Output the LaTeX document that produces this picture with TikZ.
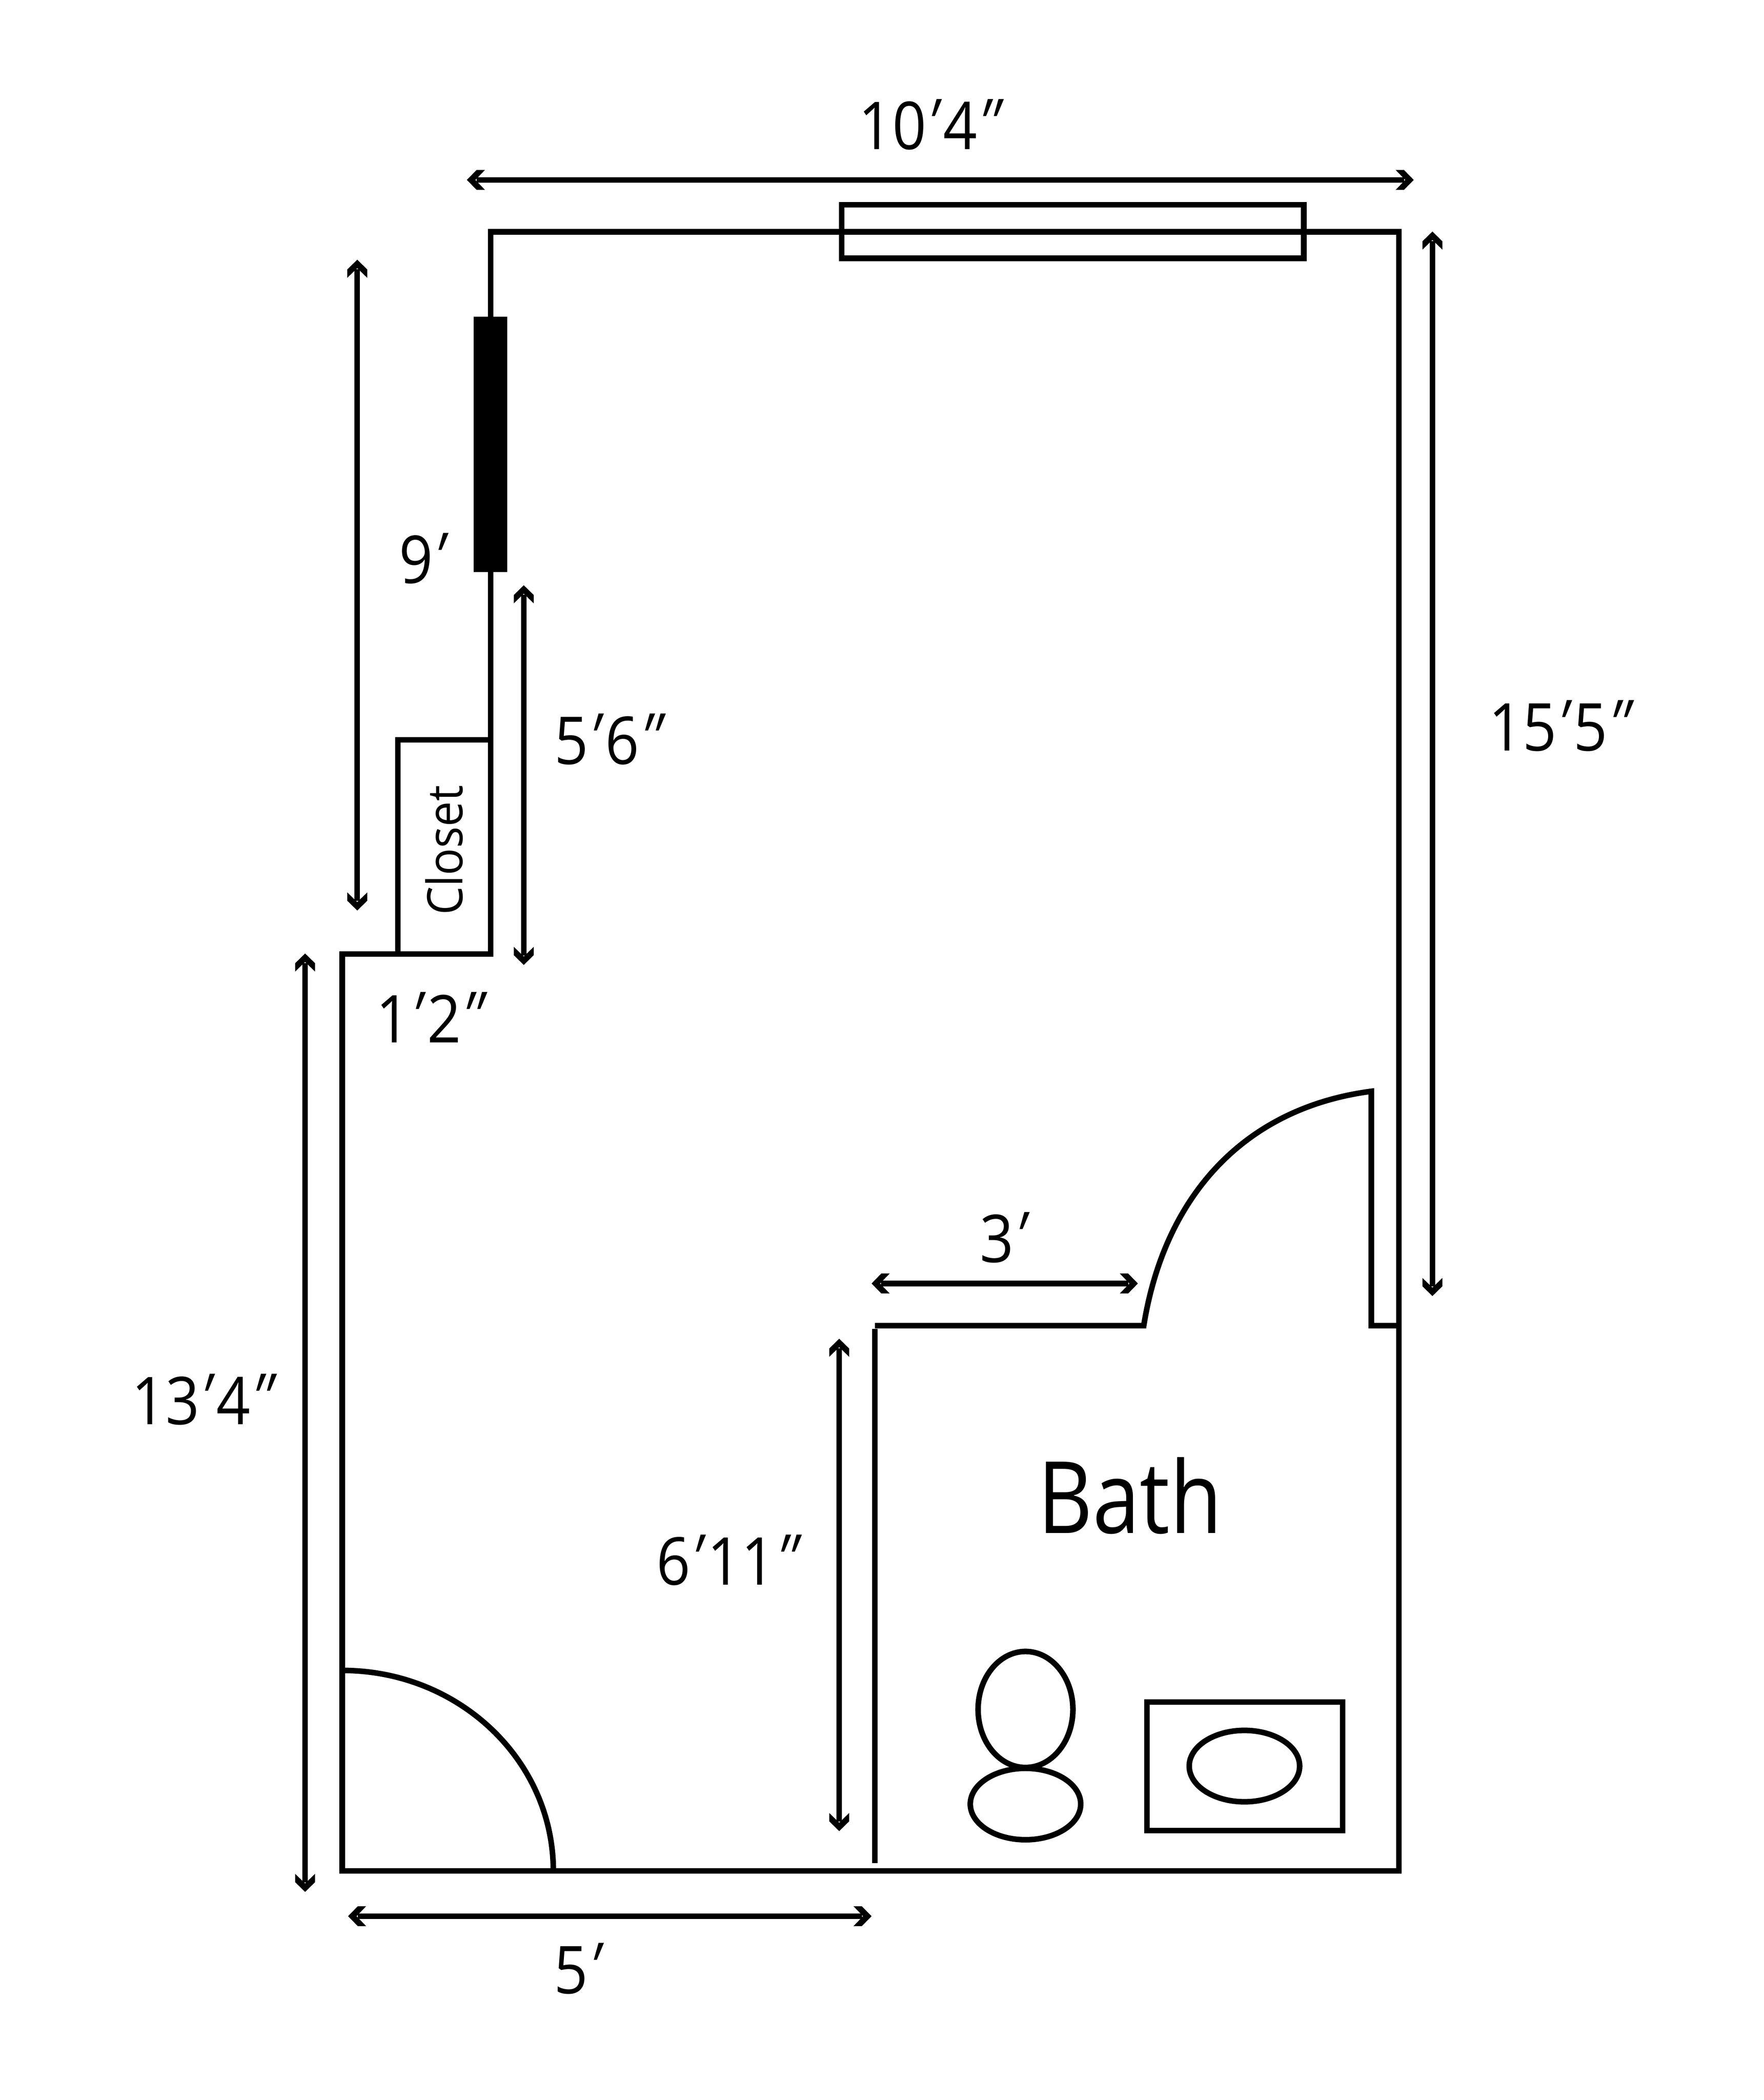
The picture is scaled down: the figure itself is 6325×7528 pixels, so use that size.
\documentclass[tikz,border=0pt]{standalone}
\usepackage{fontspec}
\setmainfont{Open Sans}[FakeStretch=0.9]
\newfontfamily\bathfont{Open Sans}[FakeStretch=0.85]
\newfontfamily\closetfont{Open Sans}[FakeStretch=0.92]
\newfontfamily\slantfont{Open Sans}[FakeStretch=0.9,FakeSlant=0.35]
\newcommand{\ftm}{\kern-5.0pt\raisebox{1.6pt}{\slantfont ′}\kern7.0pt}
\newcommand{\inm}{\kern-5.0pt\raisebox{1.6pt}{\slantfont ″}\kern7.0pt}
\usetikzlibrary{arrows.meta}
\pgfdeclarearrow{
  name=Chev,
  setup code={
    \pgfarrowssettipend{0pt}
    \pgfarrowssetlineend{-4.9pt}
    \pgfarrowssetvisualbackend{-9.25pt}
    \pgfarrowssetbackend{-9.25pt}
    \pgfarrowshullpoint{0pt}{0pt}
    \pgfarrowshullpoint{-9.25pt}{5.1pt}
    \pgfarrowshullpoint{-9.25pt}{-5.1pt}
  },
  drawing code={
    \pgfpathmoveto{\pgfpoint{0pt}{0pt}}
    \pgfpathlineto{\pgfpoint{-5pt}{5.1pt}}
    \pgfpathlineto{\pgfpoint{-9.25pt}{5.1pt}}
    \pgfpathlineto{\pgfpoint{-4.3pt}{0pt}}
    \pgfpathlineto{\pgfpoint{-9.25pt}{-5.1pt}}
    \pgfpathlineto{\pgfpoint{-5pt}{-5.1pt}}
    \pgfpathclose
    \pgfusepathqfill
  }
}
\tikzset{
  wall/.style={line width=2.85pt,miter limit=10,black},
  dim/.style={line width=2.85pt,black,{Chev}-{Chev}},
  lab/.style={inner sep=0pt,anchor=base,font=\fontsize{33.7pt}{38pt}\selectfont},
}
\begin{document}
\begin{tikzpicture}[x=0.005cm,y=-0.005cm]
\useasboundingbox (0,0) rectangle (6325,7528);
% named corners
\coordinate (tl) at (1759,831);
\coordinate (tr) at (5016,831);
\coordinate (br) at (5016,6707);
\coordinate (bl) at (1227,6707);
\coordinate (sl) at (1227,3420);
\coordinate (sr) at (1759,3420);
% outer wall
\draw[wall] (tl) -- (tr) -- (br) -- (bl) -- (sl) -- (sr) -- cycle;
% window
\draw[wall] (3018,734) rectangle (4675,926);
% black wall section
\fill[black] (1699,1135) rectangle (1819,2050);
% closet
\draw[wall] (1759,2652) -- (1426,2652) -- (1426,3420);
% bath wall and door
\draw[wall] (3137,6679) -- (3137,4764);
\draw[wall] (3137,4752) -- (4101,4752) .. controls (4175,4291) and (4458,3972) .. (4917,3912) -- (4917,4752) -- (5016,4752);
% entry door swing
\draw[wall] (1227,5988) arc[start angle=90,end angle=0,x radius=757,y radius=-719];
% fixtures
\draw[wall] (3677,6128) ellipse[x radius=170,y radius=208];
\draw[wall] (3677,6467) ellipse[x radius=198,y radius=128];
\draw[wall] (4112,6101) rectangle (4814,6562);
\draw[wall] (4462,6331) ellipse[x radius=198,y radius=128];
% dimension arrows
\coordinate (a1) at (1674,645); \coordinate (a2) at (5069,645);
\draw[dim] (a1) -- (a2);
\coordinate (b1) at (5136,830); \coordinate (b2) at (5136,4646);
\draw[dim] (b1) -- (b2);
\coordinate (c1) at (1281,931); \coordinate (c2) at (1281,3264);
\draw[dim] (c1) -- (c2);
\coordinate (d1) at (1878,2098); \coordinate (d2) at (1878,3459);
\draw[dim] (d1) -- (d2);
\coordinate (e1) at (1094,3418); \coordinate (e2) at (1094,6782);
\draw[dim] (e1) -- (e2);
\coordinate (f1) at (1248,6869); \coordinate (f2) at (3125,6869);
\draw[dim] (f1) -- (f2);
\coordinate (g1) at (3009,4799); \coordinate (g2) at (3009,6564);
\draw[dim] (g1) -- (g2);
\coordinate (h1) at (3125,4601); \coordinate (h2) at (4080,4601);
\draw[dim] (h1) -- (h2);
% labels
\node[lab] (t1) at (3340,536) {10\ftm4\inm};
\node[lab] (t2) at (5600,2691) {15\ftm5\inm};
\node[lab] (t3) at (1522,2091) {9\ftm};
\node[lab] (t4) at (2189,2739) {5\ftm6\inm};
\node[lab] (t5) at (1550,3737) {1\ftm2\inm};
\node[lab] (t6) at (734,5106) {13\ftm4\inm};
\node[lab] (t7) at (3605,4525) {3\ftm};
\node[lab] (t8) at (2616,5682) {6\ftm11\inm};
\node[lab] (t9) at (2078,7146) {5\ftm};
\node[inner sep=0pt,font=\bathfont\fontsize{51pt}{56pt}\selectfont] (bath) at (4051,5362) {Bath};
\node[inner sep=0pt,rotate=90,font=\closetfont\fontsize{25pt}{30pt}\selectfont] (closet) at (1593,3048) {Closet};
\end{tikzpicture}
\end{document}
